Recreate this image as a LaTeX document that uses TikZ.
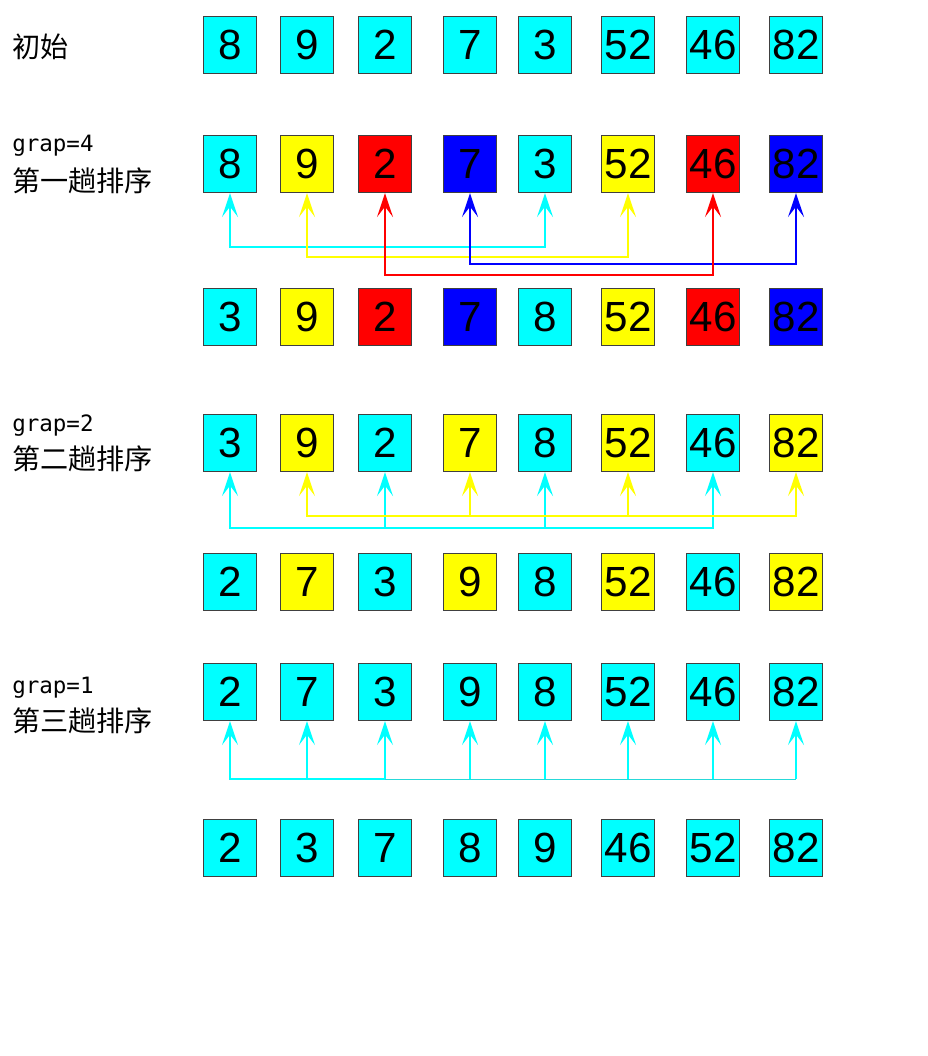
\documentclass[tikz,border=0pt]{standalone}
\usepackage{fontspec}
\setmainfont{Liberation Sans}
\newfontfamily\cjk{Noto Sans CJK SC}
\newfontfamily\gapfont{DejaVu Sans Mono}
\usetikzlibrary{arrows.meta}
\definecolor{boxedge}{RGB}{64,64,64}
\definecolor{ccyan}{RGB}{0,255,255}
\definecolor{cyellow}{RGB}{255,255,0}
\definecolor{cred}{RGB}{255,0,0}
\definecolor{cblue}{RGB}{0,0,255}

\begin{document}
\begin{tikzpicture}[x=0.025cm,y=-0.025cm,
        cell/.style={draw=boxedge,line width=0.8pt,minimum width=1.325cm,minimum height=1.425cm,inner sep=0pt,font=\fontsize{30}{30}\selectfont},
        link/.style={line width=1.4pt,{Stealth[length=6mm,width=4mm,inset=2.6mm]}-{Stealth[length=6mm,width=4mm,inset=2.6mm]}},
        rise/.style={line width=1.4pt,-{Stealth[length=6mm,width=4mm,inset=2.6mm]}},
        lbl/.style={anchor=west,inner sep=0pt,font=\cjk\fontsize{20}{20}\selectfont},
        gaplbl/.style={anchor=west,inner sep=0pt,font=\gapfont\fontsize{16}{16}\selectfont}]
        \useasboundingbox (0,0) rectangle (927,1056);

        % labels
        \node[lbl] (init) at (12,47) {初始};
        \node[gaplbl] (g4) at (12,146) {grap=4};
        \node[lbl] (pass1) at (12,181) {第一趟排序};
        \node[gaplbl] (g2) at (12,426) {grap=2};
        \node[lbl] (pass2) at (12,459) {第二趟排序};
        \node[gaplbl] (g1) at (12,688) {grap=1};
        \node[lbl] (pass3) at (12,721) {第三趟排序};

        % rows of cells
        \foreach \r/\y/\row in {
            1/45/{8/ccyan,9/ccyan,2/ccyan,7/ccyan,3/ccyan,52/ccyan,46/ccyan,82/ccyan},
            2/164/{8/ccyan,9/cyellow,2/cred,7/cblue,3/ccyan,52/cyellow,46/cred,82/cblue},
            3/317/{3/ccyan,9/cyellow,2/cred,7/cblue,8/ccyan,52/cyellow,46/cred,82/cblue},
            4/443/{3/ccyan,9/cyellow,2/ccyan,7/cyellow,8/ccyan,52/cyellow,46/ccyan,82/cyellow},
            5/582/{2/ccyan,7/cyellow,3/ccyan,9/cyellow,8/ccyan,52/cyellow,46/ccyan,82/cyellow},
            6/692/{2/ccyan,7/ccyan,3/ccyan,9/ccyan,8/ccyan,52/ccyan,46/ccyan,82/ccyan},
            7/848/{2/ccyan,3/ccyan,7/ccyan,8/ccyan,9/ccyan,46/ccyan,52/ccyan,82/ccyan}} {
            \foreach \v/\c [count=\i] in \row {
                \pgfmathsetmacro\cx{{230,307,385,470,545,628,713,796}[\i-1]}
                \node[cell,fill=\c] (r\r c\i) at (\cx,\y) {\v};
            }
        }

        % grap=4
        \draw[link,ccyan] (r2c1.south) -- ++(0,54) -| (r2c5.south);
        \draw[link,cyellow] (r2c2.south) -- ++(0,64) -| (r2c6.south);
        \draw[link,cblue] (r2c4.south) -- ++(0,71) -| (r2c8.south);
        \draw[link,cred] (r2c3.south) -- ++(0,82) -| (r2c7.south);

        % grap=2
        \draw[link,ccyan] (r4c1.south) -- ++(0,56) coordinate (cy4) -| (r4c7.south);
        \draw[rise,ccyan] (cy4 -| r4c3.south) -- (r4c3.south);
        \draw[rise,ccyan] (cy4 -| r4c5.south) -- (r4c5.south);
        \draw[link,cyellow] (r4c2.south) -- ++(0,44) coordinate (ye4) -| (r4c8.south);
        \draw[rise,cyellow] (ye4 -| r4c4.south) -- (r4c4.south);
        \draw[rise,cyellow] (ye4 -| r4c6.south) -- (r4c6.south);

        % grap=1
        \draw[link,ccyan] (r6c1.south) -- ++(0,58) coordinate (cy6) -| (r6c3.south);
        \draw[ccyan!70!gray,line width=0.6pt] (cy6 -| r6c3.south) -- (cy6 -| r6c8.south);
        \draw[rise,ccyan] (cy6 -| r6c2.south) -- (r6c2.south);
        \foreach \i in {4,...,8}
            \draw[rise,ccyan] (cy6 -| r6c\i.south) -- (r6c\i.south);
    \end{tikzpicture}
\end{document}
